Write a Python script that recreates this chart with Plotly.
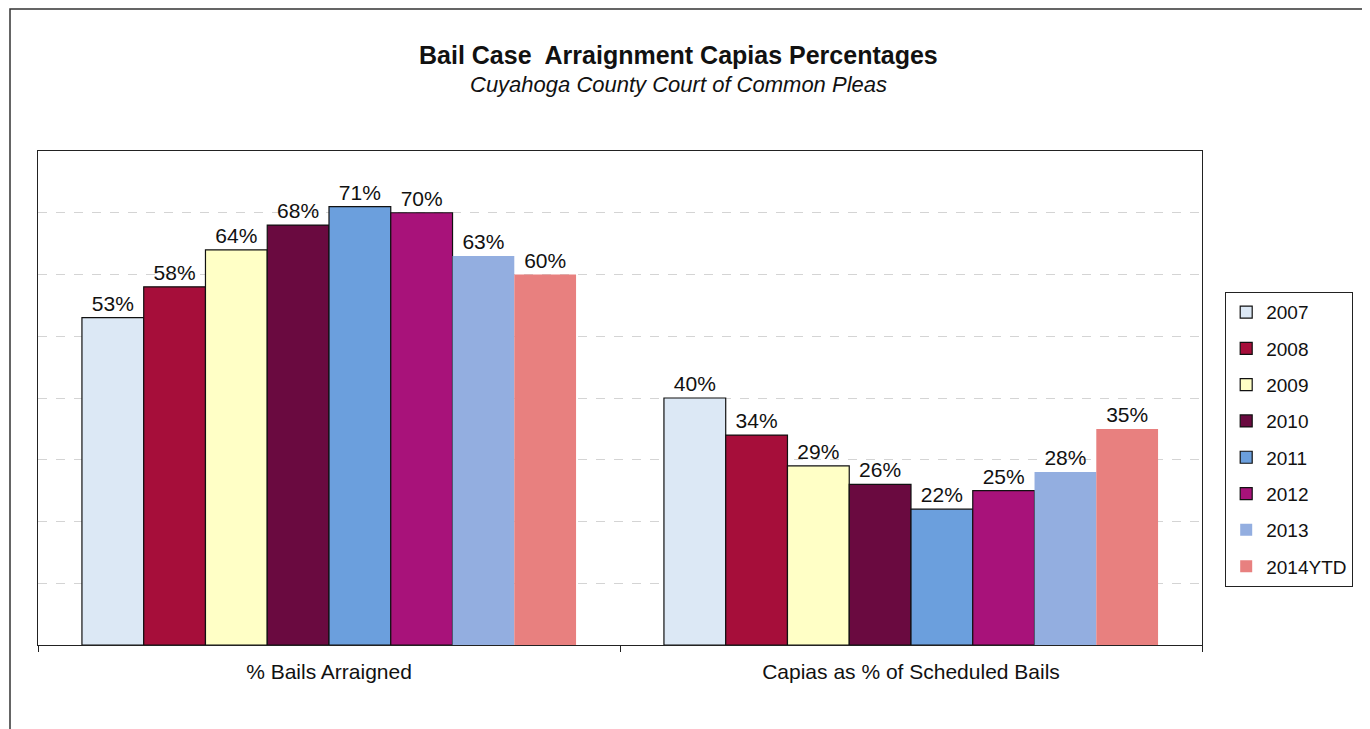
import plotly.graph_objects as go

categories = ["% Bails Arraigned", "Capias as % of Scheduled Bails"]
series_names = ["2007", "2008", "2009", "2010", "2011", "2012", "2013", "2014YTD"]
series_values = {
    "2007": [0.53, 0.40],
    "2008": [0.58, 0.34],
    "2009": [0.64, 0.29],
    "2010": [0.68, 0.26],
    "2011": [0.71, 0.22],
    "2012": [0.70, 0.25],
    "2013": [0.63, 0.28],
    "2014YTD": [0.60, 0.35],
}
colors = {
    "2007": "#DCE8F5",
    "2008": "#A60E3A",
    "2009": "#FFFFC6",
    "2010": "#6A0A40",
    "2011": "#6B9FDD",
    "2012": "#A8127A",
    "2013": "#93AEE0",
    "2014YTD": "#E8807F",
}
outlined = {"2007", "2008", "2009", "2010", "2011", "2012"}

FONT = "Arial, Liberation Sans, Helvetica, sans-serif"

fig = go.Figure()
for name in series_names:
    vals = series_values[name]
    fig.add_trace(go.Bar(
        name=name,
        x=categories,
        y=vals,
        text=[f"{round(v*100)}%" for v in vals],
        textposition="outside",
        textfont=dict(family=FONT, size=21, color="#111111"),
        cliponaxis=False,
        marker=dict(
            color=colors[name],
            line=dict(color="#111111", width=1.2 if name in outlined else 0),
        ),
        legendgroup=name,
        hoverinfo="skip",
    ))

# page offset (body margin) of 8px
OFF = 8
W, H = 1370, 729
# target pixel positions in the screenshot
PL, PR, PT, PB = 38, 1202, 151, 645
L, T = PL - OFF, PT - OFF
R = W - (PR - OFF)
B = H - (PB - OFF)
pw, ph = W - L - R, H - T - B

def px_x(x):
    return (x - OFF - L) / pw

def px_y(y):
    return (H - B - (y - OFF)) / ph

fig.update_layout(
    width=W, height=H,
    margin=dict(l=L, r=R, t=T, b=B, pad=0),
    paper_bgcolor="white",
    plot_bgcolor="white",
    barmode="group",
    bargap=0.151,
    bargroupgap=0,
    font=dict(family=FONT, color="#111111"),
    showlegend=True,
    legend=dict(
        x=px_x(1225), xanchor="left",
        y=px_y(292), yanchor="top",
        bordercolor="#222222", borderwidth=1.2,
        bgcolor="white",
        font=dict(family=FONT, size=19, color="#111111"),
        traceorder="grouped",
        tracegroupgap=8.6,
        itemwidth=30,
    ),
    xaxis=dict(
        type="category",
        showline=True, linecolor="#222222", linewidth=1.2,
        mirror=True,
        ticks="outside", tickson="boundaries", ticklen=6, tickcolor="#222222",
        tickfont=dict(family=FONT, size=21, color="#111111"),
        ticklabelstandoff=8,
        showgrid=False,
    ),
    yaxis=dict(
        range=[0, 0.8], dtick=0.1,
        showticklabels=False,
        showline=True, linecolor="#222222", linewidth=1.2, mirror=True,
        showgrid=True, gridcolor="#d4d4d4", gridwidth=1, griddash="dash",
        zeroline=False, ticks="",
    ),
    annotations=[
        dict(text="<b>Bail Case  Arraignment Capias Percentages</b>",
             xref="paper", yref="paper", x=px_x(678), y=px_y(55),
             xanchor="center", yanchor="middle", showarrow=False,
             font=dict(family=FONT, size=25, color="#111111")),
        dict(text="<i>Cuyahoga County Court of Common Pleas</i>",
             xref="paper", yref="paper", x=px_x(678), y=px_y(84),
             xanchor="center", yanchor="middle", showarrow=False,
             font=dict(family=FONT, size=22, color="#111111")),
    ],
    shapes=[
        dict(type="rect", xref="paper", yref="paper",
             x0=px_x(10), y0=px_y(9), x1=px_x(1420), y1=px_y(800),
             line=dict(color="#333333", width=1.5), layer="below"),
    ],
)

fig.write_html("out.html")
